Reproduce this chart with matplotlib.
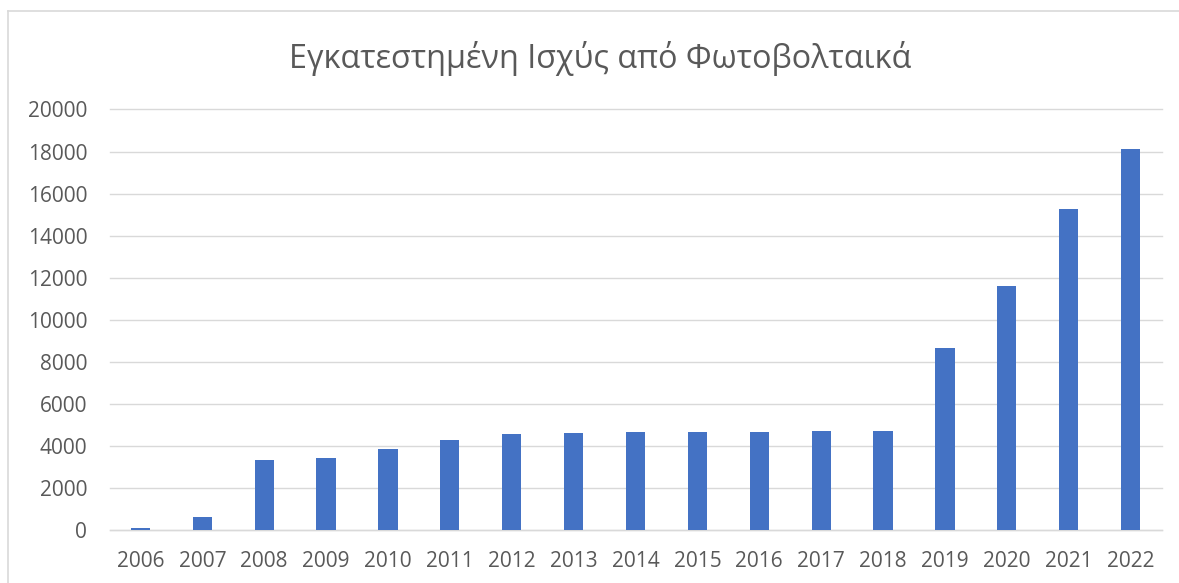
import matplotlib
matplotlib.use('Agg')
import matplotlib.pyplot as plt
from matplotlib.lines import Line2D

plt.rcParams['font.family'] = ['Open Sans', 'DejaVu Sans']

# δεδομένα (MW)
years = ['2006', '2007', '2008', '2009', '2010', '2011', '2012', '2013', '2014',
         '2015', '2016', '2017', '2018', '2019', '2020', '2021', '2022']
power = [100, 610, 3340, 3410, 3840, 4270, 4580, 4620, 4660,
         4660, 4660, 4690, 4720, 8660, 11620, 15260, 18120]
yticks = [0, 2000, 4000, 6000, 8000, 10000, 12000, 14000, 16000, 18000, 20000]
title = 'Εγκατεστημένη Ισχύς από Φωτοβολταικά'

W, H = 1179, 583
fig = plt.figure(figsize=(W / 100, H / 100), dpi=100)
ax = fig.add_axes([109.5 / W, (H - 530) / H, 1052 / W, 420.5 / H])

x = list(range(len(years)))
ax.bar(x, power, width=0.31, color='#4472C4', zorder=3)

ax.set_xlim(-0.5, len(years) - 0.5)
ax.set_ylim(0, 20000)
ax.set_yticks(yticks)
ax.set_yticklabels([str(v) for v in yticks])
ax.set_xticks(x)
ax.set_xticklabels(years)
ax.tick_params(axis='both', length=0, labelsize=15, labelcolor='#595959')
ax.tick_params(axis='y', pad=16)
ax.tick_params(axis='x', pad=15)
ax.grid(axis='y', color='#D9D9D9', linewidth=1.0, zorder=0)
for gl in ax.get_ygridlines():
    gl.set_clip_on(False)
for s in ['top', 'right', 'left']:
    ax.spines[s].set_visible(False)
ax.spines['bottom'].set_color('#D9D9D9')
ax.spines['bottom'].set_linewidth(1.0)

fig.text(600 / W, 1 - 59 / H, title, ha='center', va='center',
         fontsize=23.3, color='#595959')

# πλαίσιο γραφήματος
fig.add_artist(Line2D([8 / W, 1], [1 - 11 / H, 1 - 11 / H], color='#D9D9D9', linewidth=1.2))
fig.add_artist(Line2D([8 / W, 8 / W], [0, 1 - 11 / H], color='#D9D9D9', linewidth=1.2))

fig.savefig('out.png', dpi=100)
